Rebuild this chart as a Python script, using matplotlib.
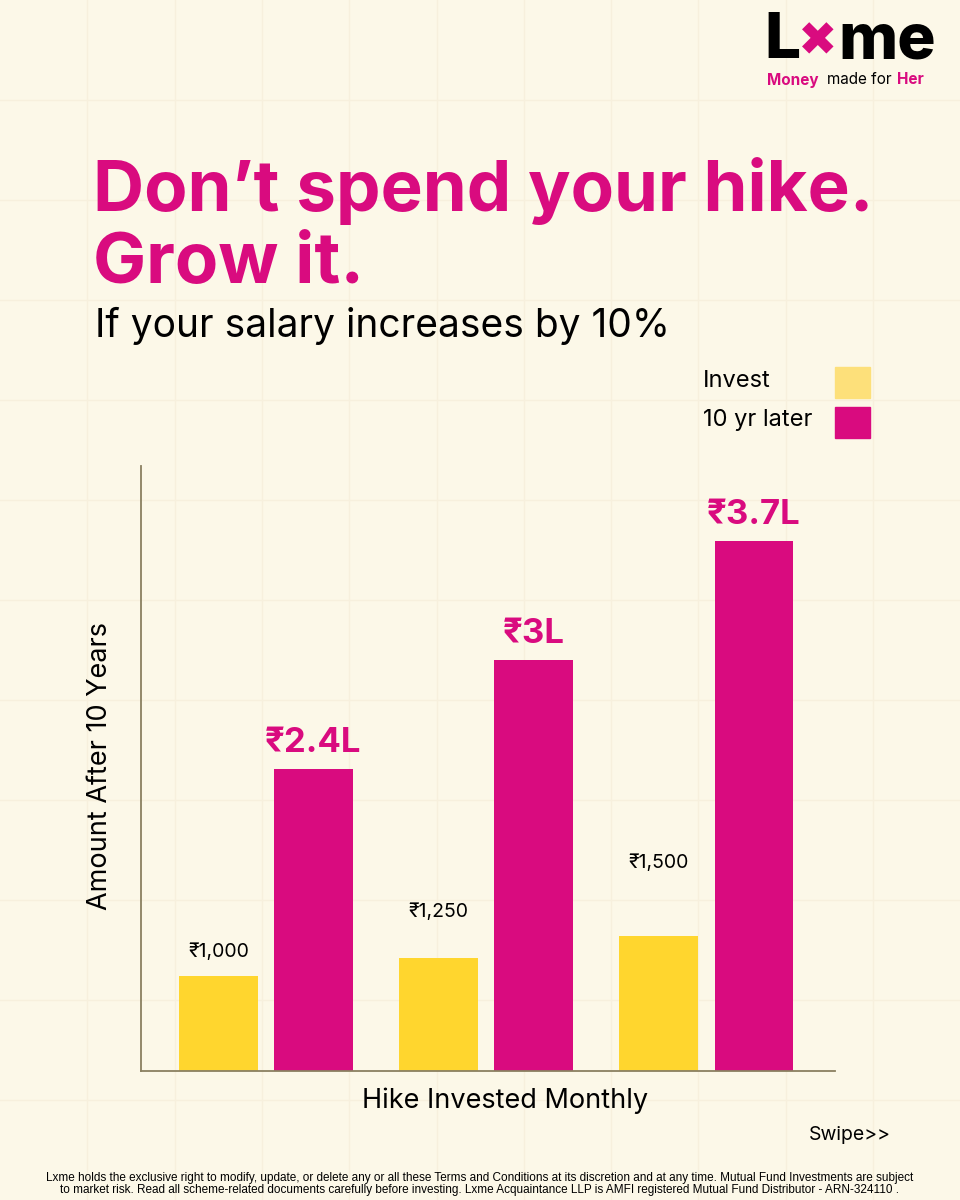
import matplotlib.pyplot as plt

plt.rcParams['font.family'] = ['Inter', 'DejaVu Sans']

# data (bar heights as drawn, in arbitrary units)
groups = ['₹1,000', '₹1,250', '₹1,500']
invest = [95, 113, 135]
later = [302, 411, 530]
later_labels = ['₹2.4L', '₹3L', '₹3.7L']
invest_label_gap = [11, 27, 46]   # label offsets above yellow bars (points)

BG = '#fcf8e8'
PINK = '#d90b7f'
YELLOW = '#ffd62e'
W, H = 960, 1200


def fx(px):
    return px / W


def fy(py):
    return 1 - py / H


fig = plt.figure(figsize=(9.6, 12), dpi=100, facecolor=BG)

# faint background grid
for i in range(1, 11):
    fig.add_artist(plt.Line2D([fx(i * 87.3)] * 2, [0, 1], color='#f7f0dd', lw=1.0, zorder=0))
for j in range(1, 12):
    fig.add_artist(plt.Line2D([0, 1], [fy(j * 100)] * 2, color='#f7f0dd', lw=1.0, zorder=0))

# logo
fig.text(fx(764), fy(42), 'L', fontsize=46, fontweight='heavy', color='black', va='center', ha='left')
fig.text(fx(818), fy(43), '✖', fontsize=34, color=PINK, va='center', ha='center',
         family=['DejaVu Sans'])
fig.text(fx(838), fy(42), 'me', fontsize=46, fontweight='heavy', color='black', va='center', ha='left')
fig.text(fx(767), fy(80), 'Money', fontsize=11, fontweight='bold', color=PINK, va='center', ha='left')
fig.text(fx(827), fy(80), 'made for', fontsize=11, color='black', va='center', ha='left')
fig.text(fx(897), fy(80), 'Her', fontsize=11, fontweight='bold', color=PINK, va='center', ha='left')

# headline
fig.text(fx(93), fy(191), 'Don’t spend your hike.', fontsize=51, fontweight='bold', color=PINK,
         va='center', ha='left')
fig.text(fx(93), fy(264), 'Grow it.', fontsize=51, fontweight='bold', color=PINK, va='center', ha='left')
fig.text(fx(95), fy(326), 'If your salary increases by 10%', fontsize=28, color='black',
         va='center', ha='left')

# legend
fig.text(fx(703), fy(381), 'Invest', fontsize=17, color='black', va='center', ha='left')
fig.text(fx(703), fy(420), '10 yr later', fontsize=17, color='black', va='center', ha='left')
fig.add_artist(plt.Rectangle((fx(835), fy(398)), fx(35), 31 / H, color='#fde07a'))
fig.add_artist(plt.Rectangle((fx(835), fy(438)), fx(35), 31 / H, color=PINK))

# chart
ax = fig.add_axes([fx(141), fy(1071), fx(835 - 141), (1071 - 466) / H])
ax.set_facecolor('none')
x = range(len(groups))
off = 0.216
bw = 0.355
ax.bar([i - off for i in x], invest, width=bw, color=YELLOW, zorder=2)
ax.bar([i + off for i in x], later, width=bw, color=PINK, zorder=2)

for i in x:
    ax.annotate(groups[i], (i - off, invest[i]), xytext=(0, invest_label_gap[i]), textcoords='offset points',
                ha='center', va='bottom', fontsize=14, color='black')
    ax.annotate(later_labels[i], (i + off, later[i]), xytext=(0, 7), textcoords='offset points',
                ha='center', va='bottom', fontsize=25, fontweight='bold', color=PINK)

ax.set_xlim(-0.568, 2.586)
ax.set_ylim(0, 605)
ax.set_xticks([])
ax.set_yticks([])
for s in ['top', 'right']:
    ax.spines[s].set_visible(False)
for s in ['left', 'bottom']:
    ax.spines[s].set_color('#8a8060')
    ax.spines[s].set_linewidth(1.3)

fig.text(fx(505), fy(1101), 'Hike Invested Monthly', fontsize=19.5, color='black', va='center', ha='center')
fig.text(fx(100), fy(766), 'Amount After 10 Years', fontsize=19.5, color='black', va='center', ha='center',
         rotation=90)

fig.text(fx(850), fy(1135), 'Swipe>>', fontsize=14, color='black', va='center', ha='center')

footer = ('Lxme holds the exclusive right to modify, update, or delete any or all these Terms and Conditions '
          'at its discretion and at any time. Mutual Fund Investments are subject\n'
          'to market risk. Read all scheme-related documents carefully before investing. Lxme Acquaintance '
          'LLP is AMFI registered Mutual Fund Distributor - ARN-324110 .')
fig.text(0.5, fy(1184), footer, fontsize=8.5, color='black', va='center', ha='center',
         family=['Liberation Sans Narrow', 'Liberation Sans', 'DejaVu Sans'], linespacing=1.1)

fig.savefig('out.png', dpi=100, facecolor=BG)
